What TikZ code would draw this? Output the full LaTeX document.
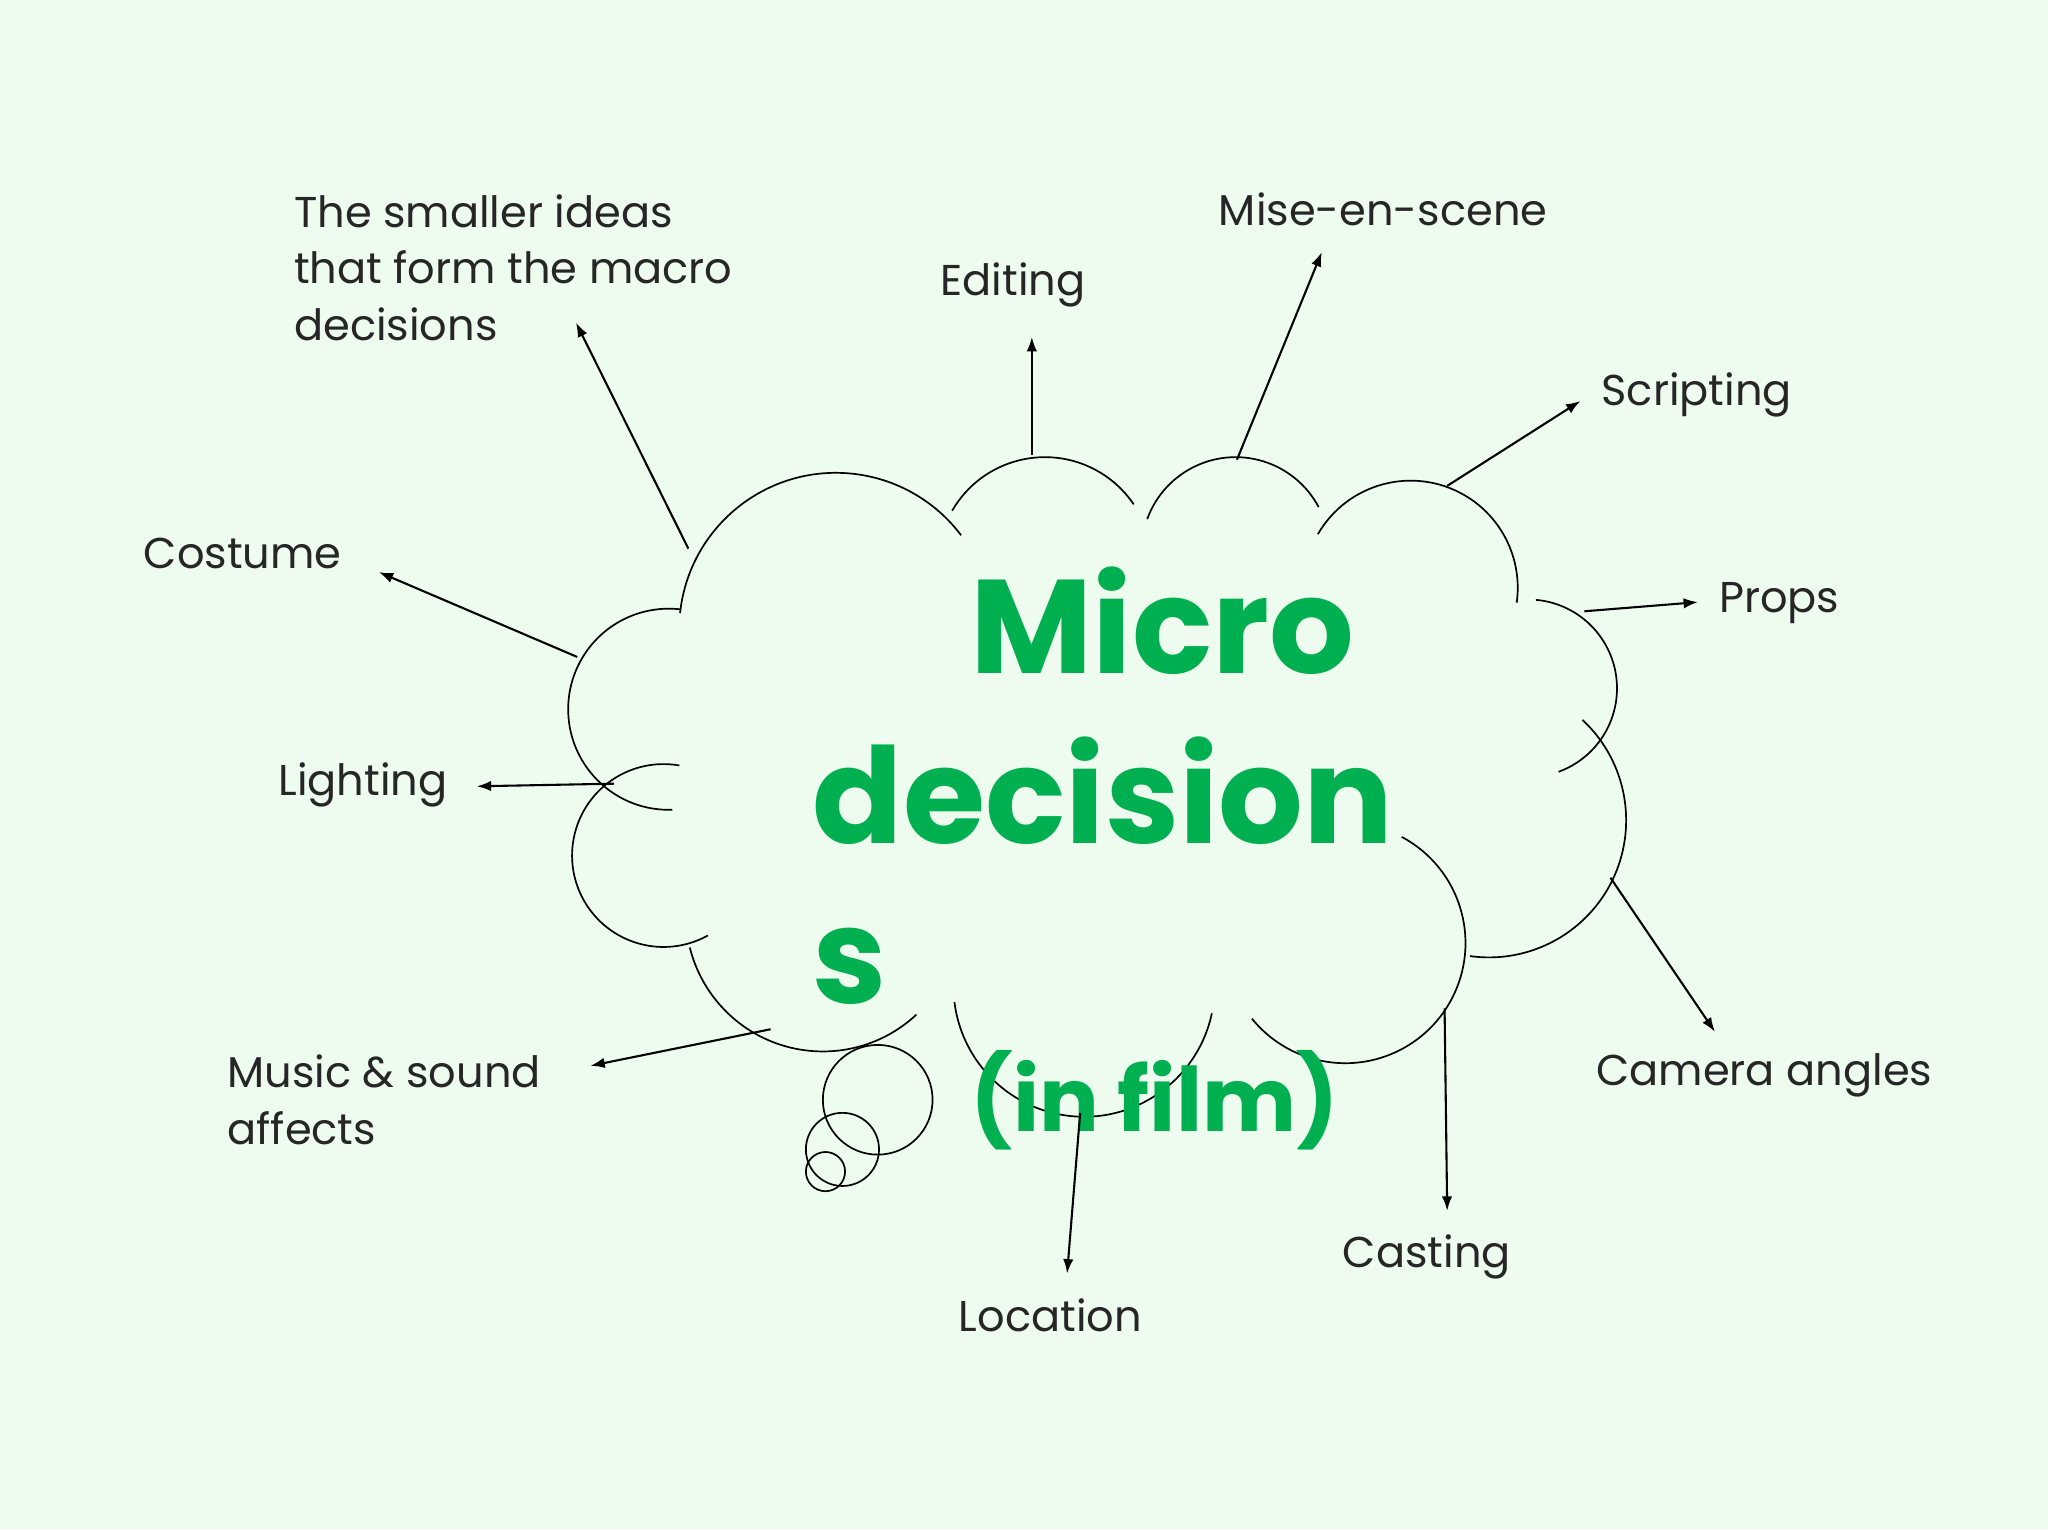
\documentclass[tikz,border=0pt]{standalone}
\usepackage{fontspec}
\setmainfont{Poppins}
\usetikzlibrary{arrows.meta}
\definecolor{bg}{HTML}{EDFCEE}
\definecolor{gr}{HTML}{00B050}
\begin{document}
\begin{tikzpicture}[x=1pt,y=-1pt,
  lbl/.style={anchor=west,inner sep=0pt,font=\fontsize{33}{43}\selectfont,align=left,text=black!85},
  big/.style={anchor=west,inner sep=0pt,text=gr,font=\fontsize{102}{104}\selectfont\bfseries},
  arr/.style={-{Latex[length=11pt,width=8pt]},line width=1.6pt},
  cl/.style={line width=1.3pt}]
\fill[bg] (0,0) rectangle (1568,1171);
\useasboundingbox (0,0) rectangle (1568,1171);
% cloud
\begin{scope}[y=1pt]
\def\bump#1#2#3#4#5{\draw[cl] (#1,-#2) ++(#4:#3) arc[start angle=#4,end angle=#5,radius=#3];}
\bump{640}{482}{120}{174}{37}
\bump{800}{432}{82}{150}{34}
\bump{946}{422}{72}{160}{28}
\bump{1080}{450}{82}{150}{-8}
\bump{1170}{527}{68}{85}{-70}
\bump{1140}{628}{105}{47}{-98}
\bump{1030}{722}{92}{62}{-141}
\bump{830}{755}{100}{-12}{-173}
\bump{630}{700}{105}{-47}{-166}
\bump{508}{655}{70}{-61}{-280}
\bump{512}{543}{77}{-88}{-277}
\end{scope}
\draw[cl] (672,842) circle[radius=42];
\draw[cl] (645,880) circle[radius=28];
\draw[cl] (632,897) circle[radius=15];
% labels
\node[lbl] (ideas) at (225,205) {The smaller ideas\\that form the macro\\decisions};
\node[lbl] (edit) at (720,218) {Editing};
\node[lbl] (mise) at (933,160) {Mise-en-scene};
\node[lbl] (script) at (1226,302) {Scripting};
\node[lbl] (props) at (1316,462) {Props};
\node[lbl] (cam) at (1222,823) {Camera angles};
\node[lbl] (cast) at (1028,962) {Casting};
\node[lbl] (loc) at (734,1007) {Location};
\node[lbl] (music) at (174,842) {Music \& sound\\affects};
\node[lbl] (light) at (213,601) {Lighting};
\node[lbl] (cost) at (110,424) {Costume};
% green text
\node[big,anchor=center] (micro) at (890,475) {Micro};
\node[big] (dec) at (622,605) {decision};
\node[big] (s) at (622,740) {s};
\node[big,font=\fontsize{68}{70}\selectfont\bfseries] (film) at (743,842) {(in film)};
% arrows
\coordinate (a1) at (527,420); \coordinate (b1) at (441,247);
\coordinate (a2) at (790,348); \coordinate (b2) at (790,258);
\coordinate (a3) at (947,352); \coordinate (b3) at (1012,193);
\coordinate (a4) at (1108,372); \coordinate (b4) at (1210,307);
\coordinate (a5) at (1213,468); \coordinate (b5) at (1300,461);
\coordinate (a6) at (1233,672); \coordinate (b6) at (1313,790);
\coordinate (a7) at (1106,772); \coordinate (b7) at (1108,927);
\coordinate (a8) at (827,852); \coordinate (b8) at (817,975);
\coordinate (a9) at (590,788); \coordinate (b9) at (452,816);
\coordinate (a10) at (470,600); \coordinate (b10) at (365,602);
\coordinate (a11) at (442,503); \coordinate (b11) at (290,438);
\foreach \i in {1,...,11} \draw[arr] (a\i) -- (b\i);
\end{tikzpicture}
\end{document}
